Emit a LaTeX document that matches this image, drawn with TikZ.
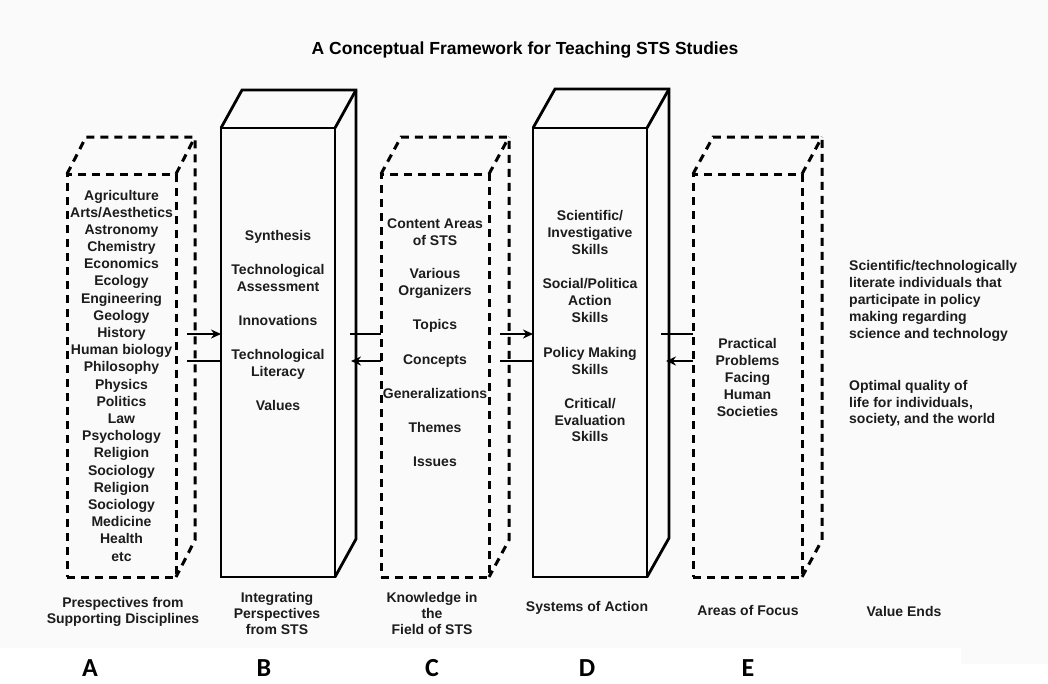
\documentclass[tikz,border=0pt]{standalone}
\usepackage{fontspec}
\setmainfont{Liberation Sans}
\newfontfamily\letterfont{Carlito}
\usetikzlibrary{arrows.meta,calc}
\definecolor{paper}{RGB}{251,250,251}
\definecolor{ink}{RGB}{28,28,28}

% depth faces (top and right side) of a column whose front face is node #1
\newcommand\columndepth[4]{%
  \draw[#2] (#1.north west) -- ++(#3,#4) -- ($(#1.north east)+(#3,#4)$)
        -- ($(#1.south east)+(#3,#4)$) -- (#1.south east);
  \draw[#2] (#1.north east) -- ++(#3,#4);
}

\begin{document}
\begin{tikzpicture}[x=1pt,y=-1pt,
  solidedge/.style={line width=2.8pt, line join=miter, draw=black},
  dashedge/.style={line width=3pt, dash pattern=on 8pt off 6pt, draw=black},
  face/.style={outer sep=0pt, inner sep=0pt},
  conn/.style={line width=2pt, draw=black},
  tip/.style={-{Stealth[length=10pt,width=9pt]}},
  lbl/.style={font=\fontsize{14}{17}\selectfont\bfseries, text=ink, inner sep=0pt, anchor=base},
  lblleft/.style={lbl, anchor=base west},
  title/.style={font=\fontsize{17.5}{20}\selectfont\bfseries, text=black, inner sep=0pt, anchor=base},
  letter/.style={font=\fontsize{26}{30}\letterfont\bfseries, text=black, inner sep=0pt, anchor=base}
]
% canvas
\fill[white] (0,0) rectangle (1048,683);
\fill[paper] (0,0) rectangle (1048,648);
\fill[paper] (961,648) rectangle (1048,664);
\useasboundingbox (0,0) rectangle (1048,683);

\node[title] (heading) at (525,54) {A Conceptual Framework for Teaching STS Studies};

% front faces of the five columns
\node[face, draw, dashedge, minimum width=109pt, minimum height=403pt] (A) at (121.5,375.5) {};
\node[face, draw, solidedge, minimum width=114pt, minimum height=449pt] (B) at (278,352.5) {};
\node[face, draw, dashedge, minimum width=108pt, minimum height=403pt] (C) at (435,375.5) {};
\node[face, draw, solidedge, minimum width=114pt, minimum height=449pt] (D) at (590,352.5) {};
\node[face, draw, dashedge, minimum width=109pt, minimum height=403pt] (E) at (747.5,375.5) {};

\columndepth{A}{dashedge}{19}{-37}
\columndepth{B}{solidedge}{21}{-38}
\columndepth{C}{dashedge}{20}{-37}
\columndepth{D}{solidedge}{22}{-39}
\columndepth{E}{dashedge}{20}{-37}

% connectors between the columns
\coordinate (ab1) at (187,334);
\coordinate (ab2) at (187,361);
\coordinate (bc1) at (350,334);
\coordinate (bc2) at (351,361);
\coordinate (cd1) at (500,334);
\coordinate (cd2) at (500,361);
\coordinate (de1) at (661,334);
\coordinate (de2) at (666,361);
\draw[conn,tip] (ab1) -- (ab1 -| B.west);
\draw[conn] (ab2) -- (ab2 -| B.west);
\draw[conn] (bc1) -- (bc1 -| C.west);
\draw[conn,tip] (bc2 -| C.west) -- (bc2);
\draw[conn,tip] (cd1) -- (cd1 -| D.west);
\draw[conn] (cd2) -- (cd2 -| D.west);
\draw[conn] (de1) -- (de1 -| E.west);
\draw[conn,tip] (de2 -| E.west) -- (de2);

% column A: supporting disciplines
\foreach \t [count=\i] in {Agriculture, Arts/Aesthetics, Astronomy, Chemistry,
    Economics, Ecology, Engineering, Geology, History, Human biology, Philosophy,
    Physics, Politics, Law, Psychology, Religion, Sociology, Religion, Sociology,
    Medicine, Health, etc}
  \node[lbl] (a\i) at (121.5,{200+(\i-1)*17.19}) {\t};

% column B
\foreach \y/\t [count=\i] in {235/Synthesis, 269/Technological, 286/Assessment,
    320/Innovations, 354/Technological, 371/Literacy, 405/Values}
  \node[lbl] (b\i) at (278,\y+5) {\t};

% column C
\foreach \y/\t [count=\i] in {223/Content Areas, 240/of STS, 273/Various,
    290/Organizers, 324/Topics, 359/Concepts, 393/Generalizations, 427/Themes,
    461/Issues}
  \node[lbl] (c\i) at (435,\y+5) {\t};

% column D
\foreach \y/\t [count=\i] in {215/{Scientific/}, 232/Investigative, 249/Skills,
    283/{Social/Politica}, 300/Action, 317/Skills, 352/Policy Making, 369/Skills,
    403/{Critical/}, 420/Evaluation, 436/Skills}
  \node[lbl] (d\i) at (590,\y+5) {\t};

% column E
\foreach \y/\t [count=\i] in {343/Practical, 360/Problems, 377/Facing,
    394/Human, 411/Societies}
  \node[lbl] (e\i) at (747.5,\y+5) {\t};

% value ends
\foreach \y/\t [count=\i] in {265/{Scientific/technologically},
    282/literate individuals that, 299/participate in policy,
    316/making regarding, 333/science and technology,
    385/Optimal quality of, 402/{life for individuals,},
    418/{society, and the world}}
  \node[lblleft] (v\i) at (849,\y+5) {\t};

% captions under the columns
\node[lbl] (capA1) at (123,607) {Prespectives from};
\node[lbl] (capA2) at (123,623) {Supporting Disciplines};
\node[lbl] (capB1) at (277,602) {Integrating};
\node[lbl] (capB2) at (277,618) {Perspectives};
\node[lbl] (capB3) at (277,634) {from STS};
\node[lbl] (capC1) at (432,602) {Knowledge in};
\node[lbl] (capC2) at (432,618) {the};
\node[lbl] (capC3) at (432,634) {Field of STS};
\node[lbl] (capD) at (587,611) {Systems of Action};
\node[lbl] (capE) at (748,615) {Areas of Focus};
\node[lbl] (capF) at (904,616) {Value Ends};

% column letters
\node[letter] (lA) at (90,676) {A};
\node[letter] (lB) at (264,676) {B};
\node[letter] (lC) at (432,676) {C};
\node[letter] (lD) at (587,676) {D};
\node[letter] (lE) at (748,676) {E};
\end{tikzpicture}
\end{document}
